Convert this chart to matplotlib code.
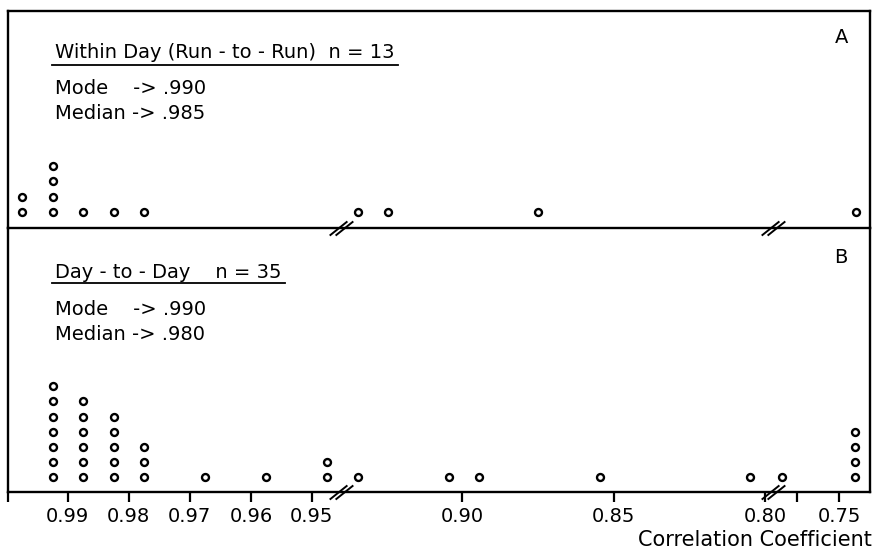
import numpy as np
import matplotlib.pyplot as plt
from matplotlib.path import Path
from matplotlib.lines import Line2D
from matplotlib.transforms import blended_transform_factory

# panel A: within day (run-to-run), n = 13
r_within = [0.9975, 0.9925, 0.9875, 0.9825, 0.9775, 0.9343, 0.9246, 0.875, 0.738]
n_within = [2, 4, 1, 1, 1, 1, 1, 1, 1]

# panel B: day-to-day, n = 35
r_day = [0.9925, 0.9875, 0.9825, 0.9775, 0.9675, 0.9575, 0.9475, 0.9345,
         0.9045, 0.8945, 0.8546, 0.805, 0.791, 0.7385]
n_day = [7, 6, 5, 3, 1, 1, 2, 1, 1, 1, 1, 1, 1, 4]

tick_vals = [0.99, 0.98, 0.97, 0.96, 0.95, 0.90, 0.85, 0.80, 0.75]
tick_labels = ['0.99', '0.98', '0.97', '0.96', '0.95', '0.90', '0.85', '0.80', '0.75']
minor_vals = [0.78]

# broken axis: three linear pieces, knots in r and horizontal pixel position
knot_r = np.array([0.725, 0.75, 0.7965, 0.7974, 0.94, 0.9454, 1.0])
knot_px = np.array([874.0, 839.0, 774.0, 773.0, 341.0, 340.0, 6.75])
breaks = [0.9427, 0.797]


def fwd(r):
    return np.interp(r, knot_r, -knot_px)


def inv(v):
    return np.interp(v, -knot_px, knot_r)


W, H = 874, 552
fig = plt.figure(figsize=(W / 100, H / 100), dpi=100)
FS = 14

left, right = 7.5, 870
axA = fig.add_axes([left / W, 1 - 228 / H, (right - left) / W, 217 / H])
axB = fig.add_axes([left / W, 1 - 492 / H, (right - left) / W, 264 / H])

row = 15.2  # px between stacked dots
xlim = (float(inv(-left)), float(inv(-right)))

# "//" marker for the axis breaks
slash = Path([(-1, -0.6), (0.5, 0.6), (-0.5, -0.6), (1, 0.6)],
             [Path.MOVETO, Path.LINETO, Path.MOVETO, Path.LINETO])

for ax, vals, counts, first in [(axA, r_within, n_within, 16.3), (axB, r_day, n_day, 14.7)]:
    ax.set_facecolor('none')
    ax.set_xscale('function', functions=(fwd, inv))
    ax.set_xlim(*xlim)
    h_px = ax.get_position().height * H
    lo = 1 - first / row
    ax.set_ylim(lo, lo + h_px / row)
    x = np.repeat(vals, counts)
    y = np.concatenate([np.arange(1, k + 1) for k in counts])
    ax.plot(x, y, 'o', mfc='white', mec='black', ms=5, mew=1.7, clip_on=False)
    ax.set_yticks([])
    for s in ax.spines.values():
        s.set_linewidth(1.7)
        s.set_color('black')
    trans = blended_transform_factory(ax.transData, ax.transAxes)
    ax.plot(breaks, [0, 0], ls='none', marker=slash, ms=17, mew=1.4,
            color='black', transform=trans, clip_on=False, zorder=5)

axA.set_xticks([])
axA.set_xticks([], minor=True)
axB.spines['top'].set_visible(False)
axB.set_xticks(tick_vals)
axB.set_xticklabels(tick_labels, fontsize=FS)
axB.set_xticks(minor_vals + [xlim[0]], minor=True)
axB.tick_params(axis='x', which='both', direction='out', length=7, width=1.6,
                pad=4, color='black')


def txt(x, y, s, size=FS, **kw):
    return fig.text(x / W, 1 - y / H, s, fontsize=size, va='baseline', **kw)


tA = txt(55, 58, 'Within Day (Run - to - Run)  n = 13')
txt(55, 94, 'Mode    -> .990')
txt(55, 119, 'Median -> .985')
txt(842, 43, 'A', ha='center')

tB = txt(55, 278, 'Day - to - Day    n = 35')
txt(55, 315, 'Mode    -> .990')
txt(55, 340, 'Median -> .980')
txt(841, 263, 'B', ha='center')

txt(872, 546, 'Correlation Coefficient', size=15, ha='right')

# underline the two panel titles
fig.canvas.draw()
for t, uy in [(tA, 65), (tB, 283)]:
    bb = t.get_window_extent()
    yf = 1 - uy / H
    fig.add_artist(Line2D([(bb.x0 - 3) / W, (bb.x1 + 3) / W], [yf, yf],
                          transform=fig.transFigure, color='black', lw=1.3))

fig.savefig('out.png', dpi=100)
